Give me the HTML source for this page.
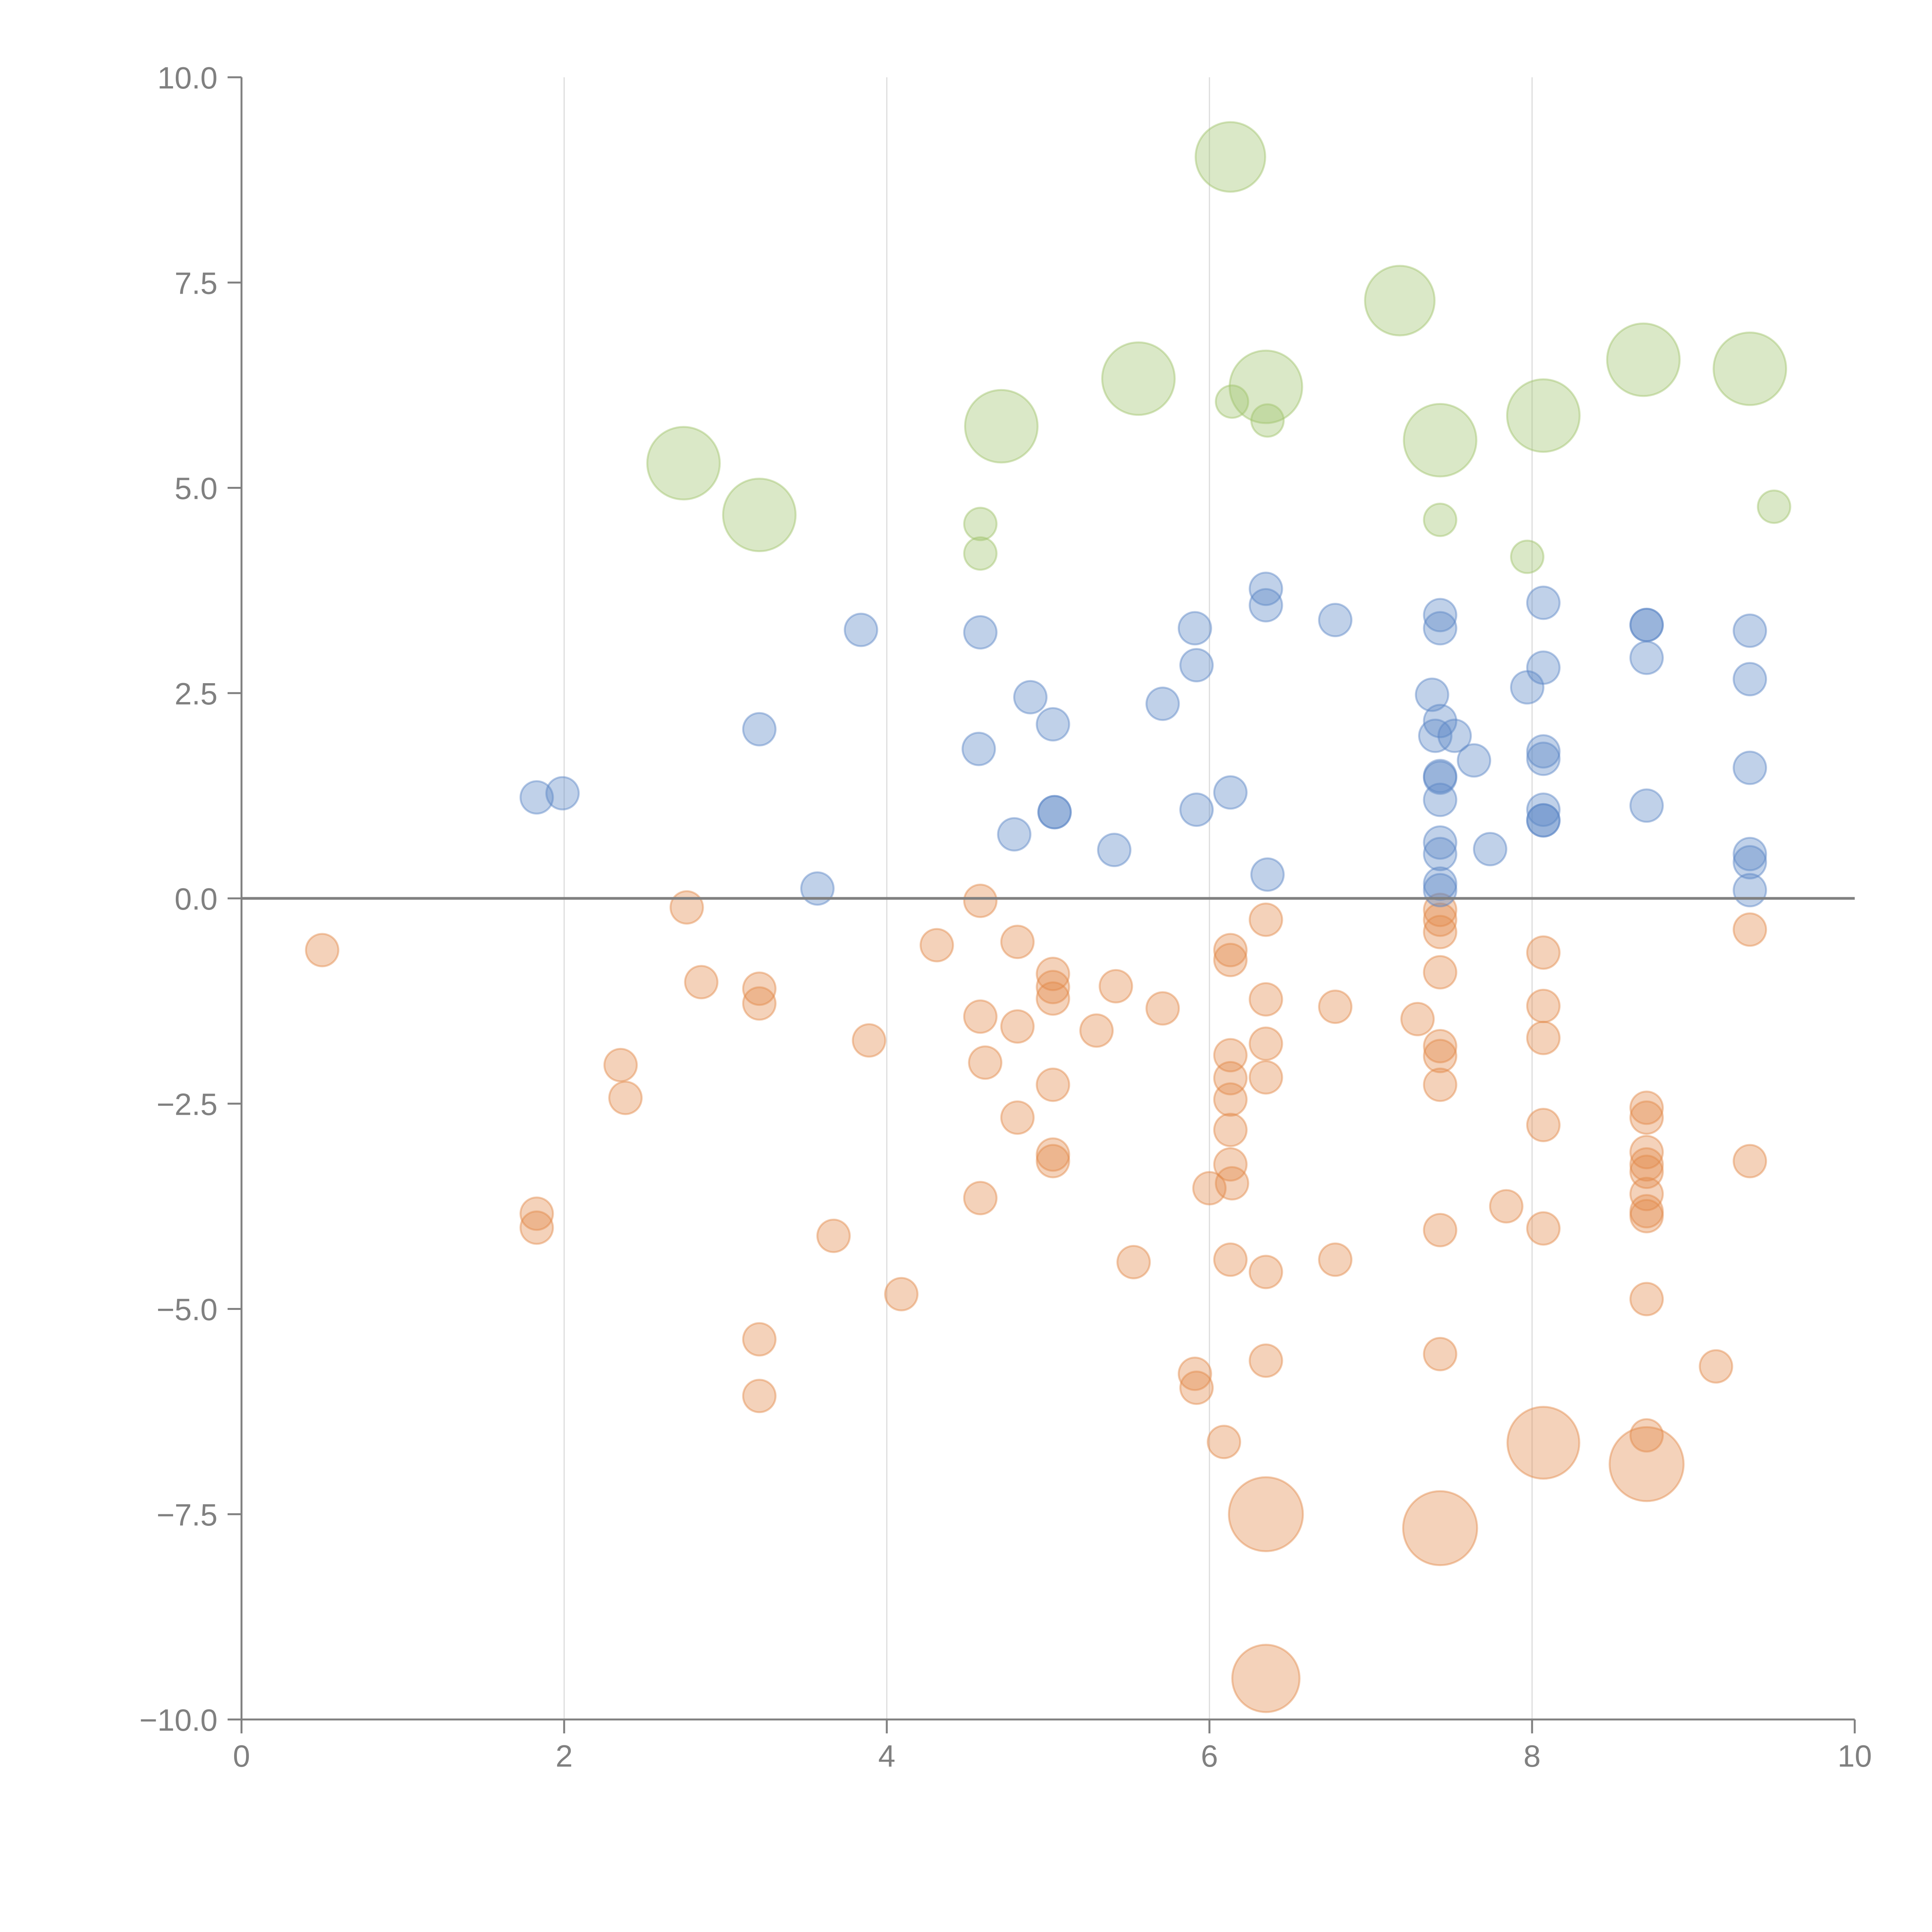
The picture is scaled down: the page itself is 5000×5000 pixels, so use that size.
<!DOCTYPE html>
<html><head><meta charset="utf-8"><style>html,body{margin:0;padding:0;background:#fff}svg{display:block}</style></head>
<body>
<svg id="chart" width="5000" height="5000" viewBox="0 0 5000 5000" xmlns="http://www.w3.org/2000/svg" font-family="'Liberation Sans', sans-serif"></svg>
<script>
const xTicks=[0,2,4,6,8,10];
const yTicks=[-10,-7.5,-5,-2.5,0,2.5,5,7.5,10];
const yTickLabels=["\u221210.0","\u22127.5","\u22125.0","\u22122.5","0.0","2.5","5.0","7.5","10.0"];
const greenX=[6.13,7.18,2.74,3.21,4.71,5.56,6.35,6.14,6.36,7.43,8.07,8.69,9.35,4.58,4.58,7.43,7.97,9.50];
const greenY=[9.03,7.28,5.30,4.67,5.75,6.33,6.23,6.05,5.82,5.58,5.88,6.56,6.45,4.56,4.20,4.61,4.16,4.77];
const greenW=[4.6,4.6,5,5,5,5,5,1,1,5,5,5,5,1,1,1,1,1];
const blueX=[1.83,1.99,3.21,3.57,3.84,4.58,4.57,4.79,4.89,5.03,5.04,5.04,5.41,5.71,5.91,5.92,5.92,6.13,6.35,6.35,6.36,6.78,7.43,7.43,7.38,7.43,7.40,7.52,7.43,7.43,7.43,7.64,7.43,7.43,7.43,7.43,7.74,7.97,8.07,8.07,8.07,8.07,8.07,8.07,8.07,8.71,8.71,8.71,8.71,9.35,9.35,9.35,9.35,9.35,9.35];
const blueY=[1.23,1.28,2.06,0.12,3.27,3.24,1.82,0.78,2.45,2.12,1.05,1.05,0.59,2.37,3.29,2.84,1.08,1.29,3.77,3.57,0.29,3.39,3.45,3.29,2.48,2.16,1.98,1.98,1.49,1.47,1.20,1.68,0.68,0.54,0.18,0.10,0.60,2.57,3.60,2.81,1.79,1.70,1.08,0.95,0.95,3.33,3.33,2.93,1.13,3.26,2.67,1.59,0.54,0.44,0.10];
const orangeX=[0.50,1.83,1.83,2.35,2.38,2.76,2.85,3.21,3.21,3.21,3.21,3.67,3.89,4.09,4.31,4.58,4.58,4.61,4.58,4.81,4.81,4.81,5.03,5.03,5.03,5.03,5.03,5.03,5.30,5.42,5.53,5.71,5.91,5.92,6.00,6.09,6.13,6.13,6.13,6.13,6.13,6.13,6.13,6.14,6.13,6.35,6.35,6.35,6.35,6.35,6.35,6.35,6.35,6.78,6.78,7.29,7.43,7.43,7.43,7.43,7.43,7.43,7.43,7.43,7.43,7.43,7.84,8.07,8.07,8.07,8.07,8.07,8.07,8.71,8.71,8.71,8.71,8.71,8.71,8.71,8.71,8.71,8.71,8.71,9.14,9.35,9.35];
const orangeY=[-0.63,-3.84,-4.01,-2.03,-2.43,-0.11,-1.02,-1.10,-1.28,-5.37,-6.06,-4.11,-1.73,-4.82,-0.57,-0.03,-1.44,-2.00,-3.65,-0.53,-1.56,-2.67,-0.92,-1.08,-1.22,-2.27,-3.12,-3.20,-1.61,-1.07,-4.43,-1.34,-5.79,-5.96,-3.53,-6.62,-0.63,-0.75,-1.91,-2.19,-2.45,-2.82,-3.24,-3.47,-4.40,-0.26,-1.23,-1.77,-2.18,-4.55,-5.63,-7.50,-9.50,-1.32,-4.40,-1.47,-0.14,-0.26,-0.41,-0.90,-1.80,-1.92,-2.27,-4.04,-5.55,-7.67,-3.75,-0.66,-1.31,-1.70,-2.76,-4.02,-6.63,-2.55,-2.67,-3.09,-3.24,-3.33,-3.60,-3.81,-3.87,-4.88,-6.54,-6.89,-5.70,-0.38,-3.20];
const orangeBig=[51,52,65,72,83];
const orangeBigW=[5.2,4.3,5.2,4.9,5.2];

const L=625,R=4800,T=200,B=4450;
const sx=v=>L+(v-0)/(10-0)*(R-L);
const sy=v=>B-(v+10)/20*(B-T);
const sr=w=>42*Math.sqrt(w);
const svg=document.getElementById('chart');
const NS='http://www.w3.org/2000/svg';
function mk(tag,attrs,parent){const e=document.createElementNS(NS,tag);for(const k in attrs)e.setAttribute(k,attrs[k]);(parent||svg).appendChild(e);return e;}

const grid=mk('g',{});


xTicks.forEach(t=>{if(t>0&&t<10){const l=mk('line',{x1:sx(t),x2:sx(t),y1:T,y2:B,stroke:'#dcdcdc','stroke-width':3},grid);

}});

function series(name,xs,ys,ws,color){
  const g=mk('g',{});
  
  
  xs.forEach((x,i)=>{
    const c=mk('circle',{cx:sx(x),cy:sy(ys[i]),r:sr(ws[i]),fill:color,'fill-opacity':0.38,stroke:color,'stroke-opacity':0.45,'stroke-width':5},g);
    
    
  });
}
const blueW=blueX.map(()=>1);
const orangeW=orangeX.map(()=>1);
orangeBig.forEach((idx,k)=>{orangeW[idx]=orangeBigW[k];});
series('orange',orangeX,orangeY,orangeW,'#e2894a');
series('blue',blueX,blueY,blueW,'#5a86c6');
series('green',greenX,greenY,greenW,'#9fc36b');

const axes=mk('g',{});


const ya=mk('line',{x1:L,x2:L,y1:T,y2:B,stroke:'#808080','stroke-width':5},axes);


const xa=mk('line',{x1:L,x2:R,y1:B,y2:B,stroke:'#808080','stroke-width':5},axes);


const zl=mk('line',{x1:L,x2:R,y1:sy(0),y2:sy(0),stroke:'#808080','stroke-width':7},axes);


xTicks.forEach(t=>{
  const tk=mk('line',{x1:sx(t),x2:sx(t),y1:B,y2:B+36,stroke:'#808080','stroke-width':5},axes);
  
  
  const tx=mk('text',{x:sx(t),y:B+122,'text-anchor':'middle','font-size':80,fill:'#808080'},axes);
  tx.textContent=String(t);
  
  
});
yTicks.forEach((t,i)=>{
  const tk=mk('line',{x1:L-36,x2:L,y1:sy(t),y2:sy(t),stroke:'#808080','stroke-width':5},axes);
  
  
  const tx=mk('text',{x:L-62,y:sy(t)+29,'text-anchor':'end','font-size':80,fill:'#808080'},axes);
  tx.textContent=yTickLabels[i];
  
  
});
</script>
</body></html>
